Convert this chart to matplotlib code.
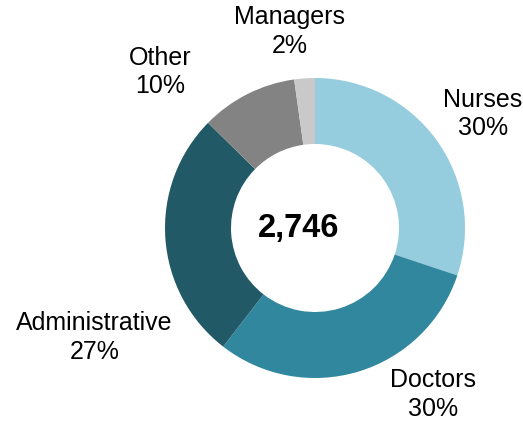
import matplotlib
matplotlib.use("Agg")
import matplotlib.pyplot as plt

# ── Data ──────────────────────────────────────────────────────────────────────
categories = ["Nurses", "Doctors", "Administrative", "Other", "Managers"]
counts     = [827, 834, 738, 286, 61]
colors     = ["#95cddf", "#30879e", "#225967", "#838383", "#c9c9c9"]
total_label = "2,746"

# label anchor points (data units, pie radius = 1)
label_pos = [(1.12, 0.76), (0.79, -1.11), (-1.47, -0.73), (-1.03, 1.04), (-0.17, 1.31)]

plt.rcParams["font.family"] = ["Liberation Sans", "DejaVu Sans"]

W, H = 523, 421
cx, cy, r = 315, 228, 150
fig = plt.figure(figsize=(W / 100, H / 100), dpi=100)
ax = fig.add_axes([(cx - r) / W, 1 - (cy + r) / H, 2 * r / W, 2 * r / H])

ax.pie(counts, colors=colors, startangle=90, counterclock=False, radius=1,
       wedgeprops=dict(width=0.44, linewidth=0))
ax.set_xlim(-1, 1)
ax.set_ylim(-1, 1)
ax.set_aspect("equal")
ax.axis("off")

total = sum(counts)
for name, n, (x, y) in zip(categories, counts, label_pos):
    ax.text(x, y, f"{name}\n{round(100 * n / total)}%", ha="center", va="center",
            fontsize=18, linespacing=1.22, color="black", clip_on=False)

ax.text(-0.11, 0.0, total_label, ha="center", va="center",
        fontsize=23.5, fontweight="bold")

fig.savefig("out.png", dpi=100)
